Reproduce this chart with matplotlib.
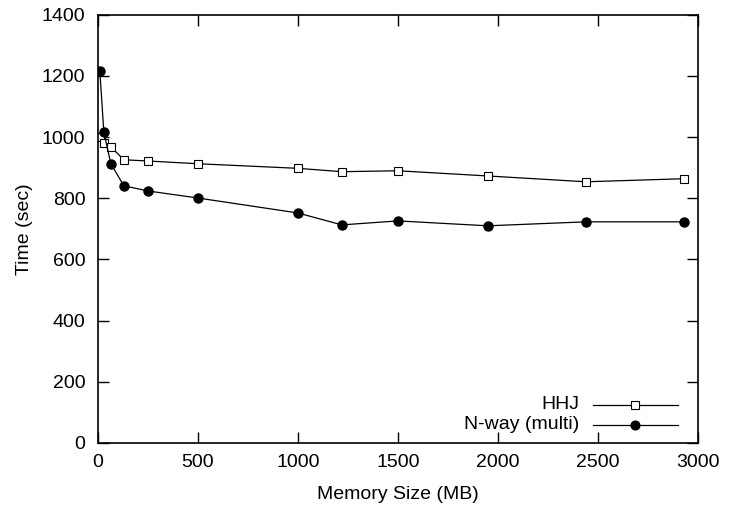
import matplotlib
matplotlib.use('Agg')
import matplotlib.pyplot as plt

plt.rcParams['font.family'] = ['Liberation Sans', 'DejaVu Sans']

mem_size = [10, 30, 65, 130, 250, 500, 1000, 1220, 1500, 1950, 2440, 2930]
hhj = [1000, 981, 968, 926, 922, 913, 898, 887, 890, 873, 854, 864]
nway = [1217, 1017, 913, 841, 824, 801, 752, 713, 726, 710, 723, 723]

fig = plt.figure(figsize=(7.3, 5.12), dpi=100)
ax = fig.add_axes([0.134, 0.135, 0.822, 0.836])

ax.plot(mem_size, hhj, color='black', lw=0.9, marker='s', ms=6,
        mfc='white', mec='black', mew=0.8)
ax.plot(mem_size, nway, color='black', lw=0.9, marker='o', ms=6.5,
        mfc='black', mec='black')

ax.set_xlim(0, 3000)
ax.set_ylim(0, 1400)
ax.set_xticks(range(0, 3001, 500))
ax.set_yticks(range(0, 1401, 200))
ax.tick_params(direction='in', top=True, right=True, length=8, width=1,
               labelsize=14)
ax.tick_params(axis='y', pad=9)
ax.tick_params(axis='x', pad=8)
for s in ax.spines.values():
    s.set_linewidth(1.2)
ax.set_xlabel('Memory Size (MB)', fontsize=14, labelpad=11)
ax.set_ylabel('Time (sec)', fontsize=14, labelpad=6)

# gnuplot-style key: label right-aligned, sample to its right
labels = ['HHJ', 'N-way (multi)']
styles = [dict(marker='s', ms=6, mfc='white'), dict(marker='o', ms=6.5, mfc='black')]
for i, (lab, st) in enumerate(zip(labels, styles)):
    yy = 0.089 - i * 0.047
    ax.text(0.802, yy, lab, transform=ax.transAxes, ha='right', va='center',
            fontsize=14)
    ax.plot([0.825, 0.967], [yy, yy], transform=ax.transAxes, color='black',
            lw=0.9)
    ax.plot([0.896], [yy], transform=ax.transAxes, color='black',
            mec='black', mew=0.8, **st)

fig.savefig('out.png', dpi=100)
